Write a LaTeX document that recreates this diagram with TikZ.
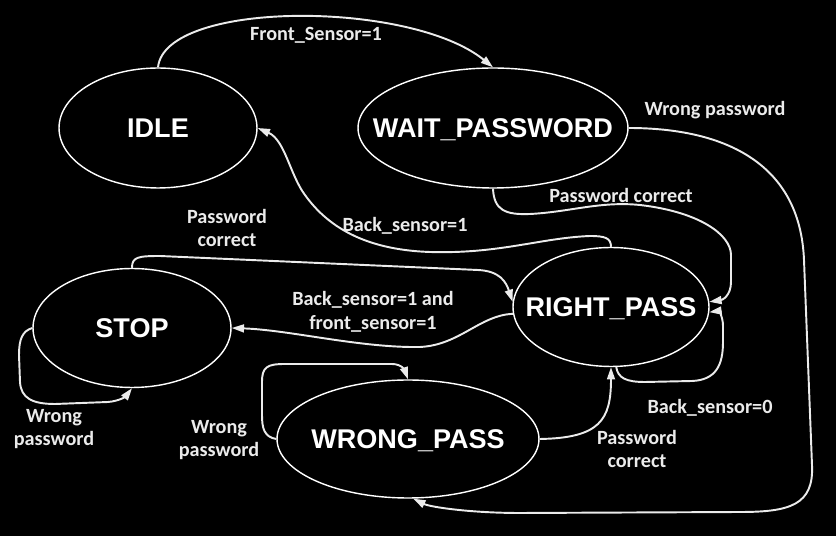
\documentclass[tikz,border=0pt]{standalone}
\usepackage{fontspec}
\usetikzlibrary{arrows.meta,shapes.geometric}
\newfontfamily\statefamily{Liberation Sans}
\newfontfamily\edgefamily{Carlito}
\begin{document}
\begin{tikzpicture}[x=0.02cm,y=-0.02cm,
  state/.style={ellipse, draw=white, line width=0.8pt, inner sep=0pt, text=white,
    font=\statefamily\bfseries\fontsize{15.4}{18}\selectfont, text depth=0pt},
  trans/.style={draw=white!92!black, line width=1.1pt,
    -{Triangle[length=7pt,width=4.5pt]}},
  lbl/.style={text=white!92!black, align=center, inner sep=0pt,
    font=\edgefamily\bfseries\fontsize{11.5}{13.6}\selectfont}]
\fill[black] (0,0) rectangle (836,536);
\useasboundingbox (0,0) rectangle (836,536);

% states
\node[state, minimum width=3.96cm, minimum height=2.4cm] (idle)  at (158,128) {\makebox[0pt]{IDLE}};
\node[state, minimum width=5.4cm,  minimum height=2.4cm] (wait)  at (493,128) {\makebox[0pt]{WAIT\_PASSWORD}};
\node[state, minimum width=3.96cm, minimum height=2.38cm] (stop) at (132,328) {\makebox[0pt]{STOP}};
\node[state, minimum width=3.92cm, minimum height=2.38cm] (right) at (611,307) {\makebox[0pt]{RIGHT\_PASS}};
\node[state, minimum width=5.24cm, minimum height=2.36cm] (wrong) at (408,439) {\makebox[0pt]{WRONG\_PASS}};

% transition labels
\node[lbl] (lfront)  at (316,35)  {Front\_Sensor=1};
\node[lbl] (lwpw)    at (715,110) {Wrong password};
\node[lbl] (lwaitok) at (621,195) {Password correct};
\node[lbl] (lback)   at (405,226) {Back\_sensor=1};
\node[lbl] (lstopok) at (227,228) {Password\\correct};
\node[lbl] (lboth)   at (373,312) {Back\_sensor=1 and\\front\_sensor=1};
\node[lbl] (lstopw)  at (54,429)  {Wrong\\password};
\node[lbl] (lwrongw) at (219,440) {Wrong\\password};
\node[lbl] (lback0)  at (710,408) {Back\_sensor=0};
\node[lbl] (lwrongok) at (637,449) {Password\\correct};

% transitions
\draw[trans] (idle.north) .. controls (165,0) and (410,0) .. (wait.north);

\draw[trans] (wait.east) .. controls (720,128) and (800,160) .. (804,260)
  -- (812,465) .. controls (814,505) and (790,512) .. (740,512)
  -- (520,513) .. controls (470,513) and (430,507) .. (wrong.-85);

\draw[trans] (wait.south) .. controls (494,210) and (505,215) .. (530,214)
  .. controls (570,212) and (600,201) .. (640,205)
  .. controls (700,212) and (731,235) .. (731,255)
  -- (731,282) .. controls (731,296) and (722,300) .. (right.3);

\draw[trans] (right.north) .. controls (611,238) and (605,236) .. (590,236)
  .. controls (540,238) and (500,254) .. (430,252)
  .. controls (370,250) and (330,230) .. (305,195)
  .. controls (290,175) and (285,140) .. (idle.east);

\draw[trans] (stop.north) .. controls (132,257) and (138,256) .. (160,256)
  -- (478,270) .. controls (500,271) and (506,282) .. (right.177);

\draw[trans] (right.184) .. controls (480,315) and (460,345) .. (420,347)
  .. controls (360,348) and (290,330) .. (stop.east);

\draw[trans] (wrong.west) .. controls (264,437) and (262,428) .. (262,415)
  -- (262,382) .. controls (262,367) and (267,364) .. (285,364)
  -- (392,364) .. controls (402,364) and (405,371) .. (wrong.north);

\draw[trans] (stop.west) .. controls (22,331) and (19,340) .. (19,355)
  -- (20,382) .. controls (21,398) and (32,404) .. (55,404)
  -- (108,402) .. controls (120,401) and (126,396) .. (stop.south);

\draw[trans] (wrong.east) .. controls (600,438) and (611,420) .. (right.south);

\draw[trans] (right.-85) .. controls (618,378) and (626,382) .. (645,382)
  -- (692,381) .. controls (716,380) and (723,365) .. (723,342)
  -- (723,326) .. controls (723,316) and (718,311) .. (right.-3);
\end{tikzpicture}
\end{document}
